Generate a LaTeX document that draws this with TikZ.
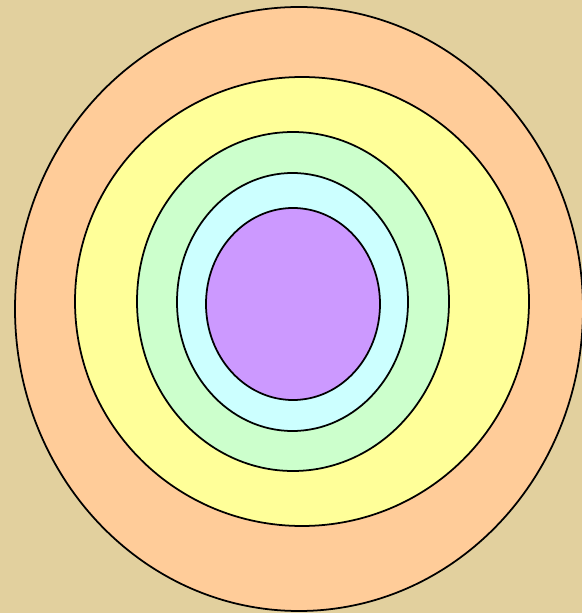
\documentclass[tikz,border=0pt]{standalone}
\usepackage{tikz}

\definecolor{papyrus}{RGB}{226,208,158}
\definecolor{ringpeach}{RGB}{255,204,153}
\definecolor{ringyellow}{RGB}{255,255,153}
\definecolor{ringgreen}{RGB}{204,255,204}
\definecolor{ringcyan}{RGB}{204,255,255}
\definecolor{ringviolet}{RGB}{204,153,255}

\begin{document}
\begin{tikzpicture}[x=0.02cm, y=0.02cm, line join=round, line cap=round,
  ring/.style={draw=black, line width=1pt}]
\clip (0,0) rectangle (582,613);
\fill[papyrus] (0,0) rectangle (582,613);
\coordinate (C1) at (299,304);
\coordinate (C2) at (302,311.5);
\coordinate (C3) at (293,311.5);
\coordinate (C4) at (292.5,311);
\coordinate (C5) at (293,309);
\filldraw[ring, fill=ringpeach] (C1) ellipse [x radius=284, y radius=302];
\filldraw[ring, fill=ringyellow] (C2) ellipse [x radius=227, y radius=224.5];
\filldraw[ring, fill=ringgreen] (C3) ellipse [x radius=156, y radius=169.5];
\filldraw[ring, fill=ringcyan] (C4) ellipse [x radius=115.5, y radius=129];
\filldraw[ring, fill=ringviolet] (C5) ellipse [x radius=87, y radius=96];
\end{tikzpicture}
\end{document}
